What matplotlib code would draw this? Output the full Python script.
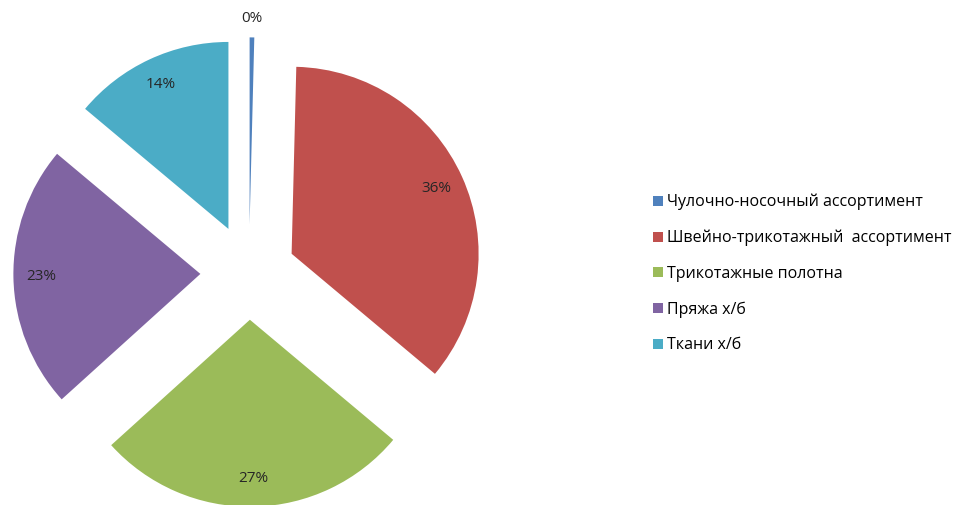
import matplotlib
matplotlib.use("Agg")
import matplotlib.pyplot as plt
import numpy as np

# data (shares in %)
labels = ["Чулочно-носочный ассортимент", "Швейно-трикотажный  ассортимент",
          "Трикотажные полотна", "Пряжа х/б", "Ткани х/б"]
values = [0.4, 35.7, 27.2, 22.8, 13.9]
colors = ["#4F81BD", "#C0504D", "#9BBB59", "#8064A2", "#4BACC6"]
explode = [0.26, 0.25, 0.25, 0.26, 0.26]

plt.rcParams['font.family'] = ['Open Sans', 'DejaVu Sans']

W, H = 965, 505
fig = plt.figure(figsize=(W / 100, H / 100), dpi=100)

# pie centre and radius in pixels
cx, cy, R = 249, 273, 187
lim = 1.4
size = 2 * lim * R
ax = fig.add_axes([(cx - size / 2) / W, (H - cy - size / 2) / H, size / W, size / H])

wedges, texts, autotexts = ax.pie(values, colors=colors, explode=explode, startangle=90,
                                  counterclock=False, autopct="%1.0f%%", pctdistance=0.85,
                                  textprops=dict(fontsize=11, color="#262626"))
ax.set_xlim(-lim, lim)
ax.set_ylim(-lim, lim)
ax.set_aspect("equal")
ax.axis("off")

# the tiny slice gets its label outside the tip
w = wedges[0]
mid = np.deg2rad((w.theta1 + w.theta2) / 2)
autotexts[0].set_position((w.center[0] + 1.1 * np.cos(mid), w.center[1] + 1.1 * np.sin(mid)))

fig.legend(wedges, labels, loc="upper left", bbox_to_anchor=(653 / W, 1 - 194 / H),
           frameon=False, fontsize=11.5, handlelength=0.6, handleheight=0.6,
           handletextpad=0.3, labelspacing=1.22, borderpad=0, borderaxespad=0)

fig.savefig("out.png", dpi=100)
